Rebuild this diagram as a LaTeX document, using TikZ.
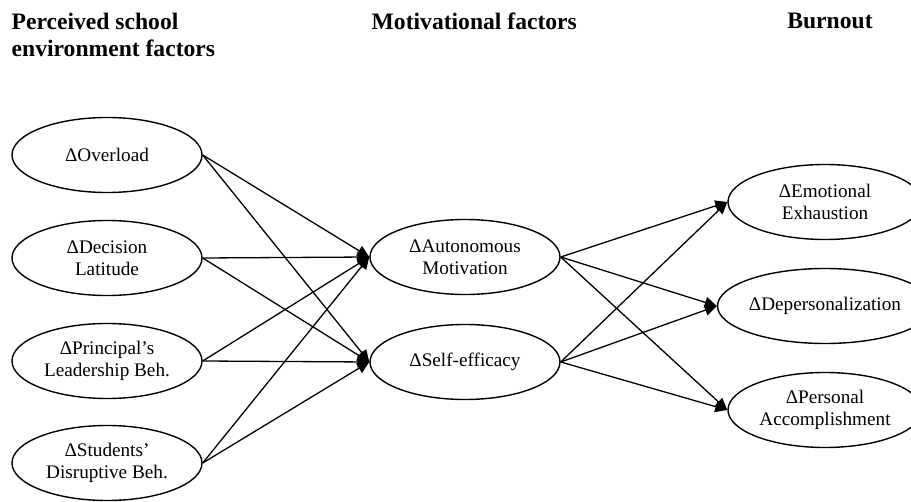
\documentclass[tikz,border=0pt]{standalone}
\usepackage{fontspec}
\setmainfont{Liberation Serif}
\usetikzlibrary{shapes.geometric, arrows.meta}

\begin{document}
\begin{tikzpicture}[x=0.5pt, y=-0.5pt, every node/.style={ellipse, draw=black, line width=0.7pt, minimum width=95pt, minimum height=37.5pt, inner sep=0pt, align=center, font=\fontsize{9.6}{11}\selectfont}, arr/.style={-{Triangle[length=6pt, width=5.5pt]}, line width=0.65pt}, head/.style={draw=none, rectangle, minimum width=0pt, minimum height=0pt, font=\bfseries\fontsize{11.8}{13.5}\selectfont}]
				\useasboundingbox (0,0) rectangle (911,502);
				
				\node[head, anchor=north west, align=left] (t1) at (11,12){Perceived school\\environment factors};
				\node[head, anchor=north west] (t2) at (371,12){Motivational factors};
				\node[head, anchor=north] (t3) at (830,12){Burnout};
				
				\node (ov) at (107,155){ΔOverload};
				\node (dl) at (107,258){ΔDecision\\Latitude};
				\node (pl) at (107,361){ΔPrincipal’s\\Leadership Beh.};
				\node (sd) at (107,463){ΔStudents’\\Disruptive Beh.};
				
				\node (am) at (465,257){ΔAutonomous\\Motivation};
				\node (se) at (465,362){ΔSelf-efficacy};
				
				\node[minimum width=97pt] (ee) at (825,202){ΔEmotional\\Exhaustion};
				\node[minimum width=97pt] (dp) at (825,306){ΔDepersonalization};
				\node[minimum width=97pt] (pa) at (825,410){ΔPersonal\\Accomplishment};
				
				\path (ov.east) edge[arr] (am.west);
				\path (ov.east) edge[arr] (se.west);
				\path (dl.east) edge[arr] (am.west);
				\path (dl.east) edge[arr] (se.west);
				\path (pl.east) edge[arr] (am.west);
				\path (pl.east) edge[arr] (se.west);
				\path (sd.east) edge[arr] (am.west);
				\path (sd.east) edge[arr] (se.west);
				
				\path (am.east) edge[arr] (ee.west);
				\path (am.east) edge[arr] (dp.west);
				\path (am.east) edge[arr] (pa.west);
				\path (se.east) edge[arr] (ee.west);
				\path (se.east) edge[arr] (dp.west);
				\path (se.east) edge[arr] (pa.west);
				\end{tikzpicture}
\end{document}
